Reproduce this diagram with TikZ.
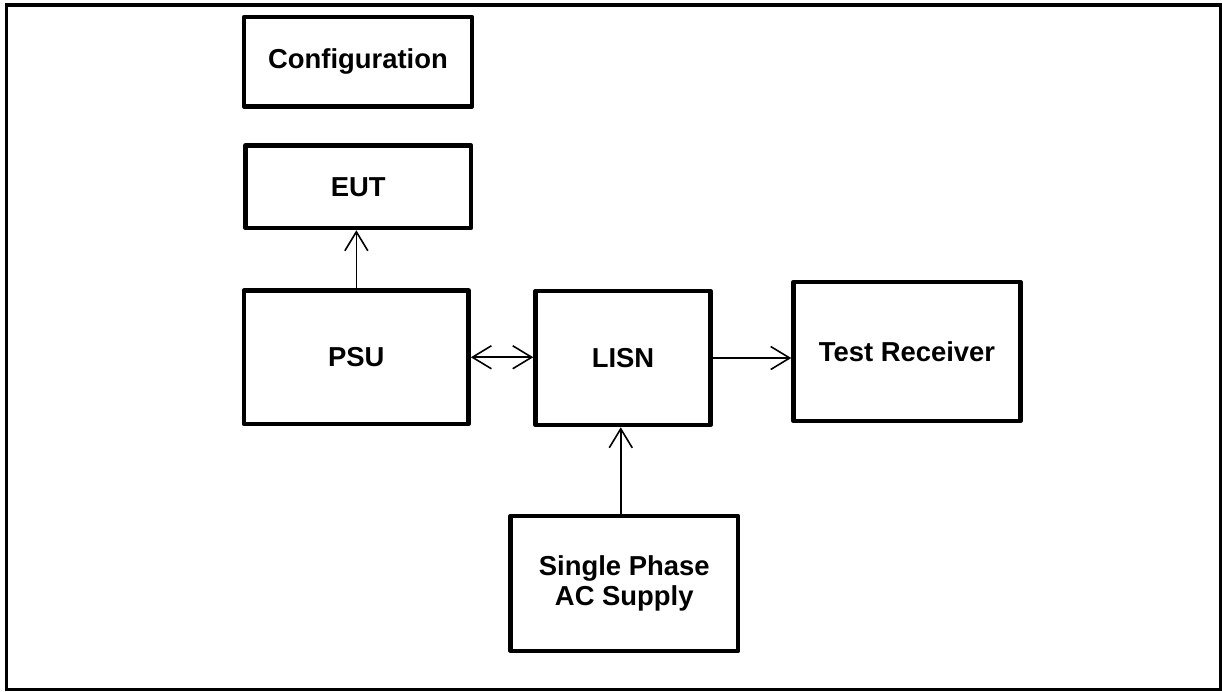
\documentclass[tikz,border=0pt]{standalone}
\usepackage{fontspec}
\setmainfont{Liberation Sans}
\usetikzlibrary{arrows.meta}

\begin{document}
\begin{tikzpicture}[auto,
        blk/.style={draw, line width=0.09cm, line join=round, align=center, inner sep=0pt,
            font=\fontsize{15.6}{17.6}\selectfont\bfseries},
        conn/.style={line width=0.032cm, -{Straight Barb[length=0.38cm,width=0.46cm]}},
        biconn/.style={line width=0.032cm, {Straight Barb[length=0.38cm,width=0.46cm]}-{Straight Barb[length=0.38cm,width=0.46cm]}}]
        \useasboundingbox (0,0) rectangle (24.44,-13.82);
        % outer frame
        \draw[line width=0.045cm] (24.41,-0.10) -- (24.41,-13.79) -- (0.13,-13.79);
        \draw[line width=0.075cm, line cap=rect] (0.13,-13.79) -- (0.13,-0.10) -- (24.41,-0.10);

        \node[blk, minimum width=4.56cm, minimum height=1.79cm] (cfg) at (7.16,-1.235) {Configuration};
        \node[blk, minimum width=4.51cm, minimum height=1.65cm] (eut) at (7.165,-3.735) {EUT};
        \node[blk, minimum width=4.49cm, minimum height=2.67cm] (psu) at (7.127,-7.145) {PSU};
        \node[blk, minimum width=3.50cm, minimum height=2.68cm] (lisn) at (12.46,-7.16) {LISN};
        \node[blk, minimum width=4.54cm, minimum height=2.78cm] (rx) at (18.14,-7.03) {Test Receiver};
        \node[blk, minimum width=4.55cm, minimum height=2.70cm] (ac) at (12.485,-11.668) {Single Phase\\AC Supply};

        \draw[conn] (psu.north) -- (psu.north |- eut.south);
        \draw[biconn] (psu.east) -- (psu.east -| lisn.west);
        \draw[conn] (lisn.east) -- (lisn.east -| rx.west);
        \draw[conn] ([xshift=-0.07cm]ac.north) -- ([xshift=-0.07cm]ac.north |- lisn.south);
    \end{tikzpicture}
\end{document}
